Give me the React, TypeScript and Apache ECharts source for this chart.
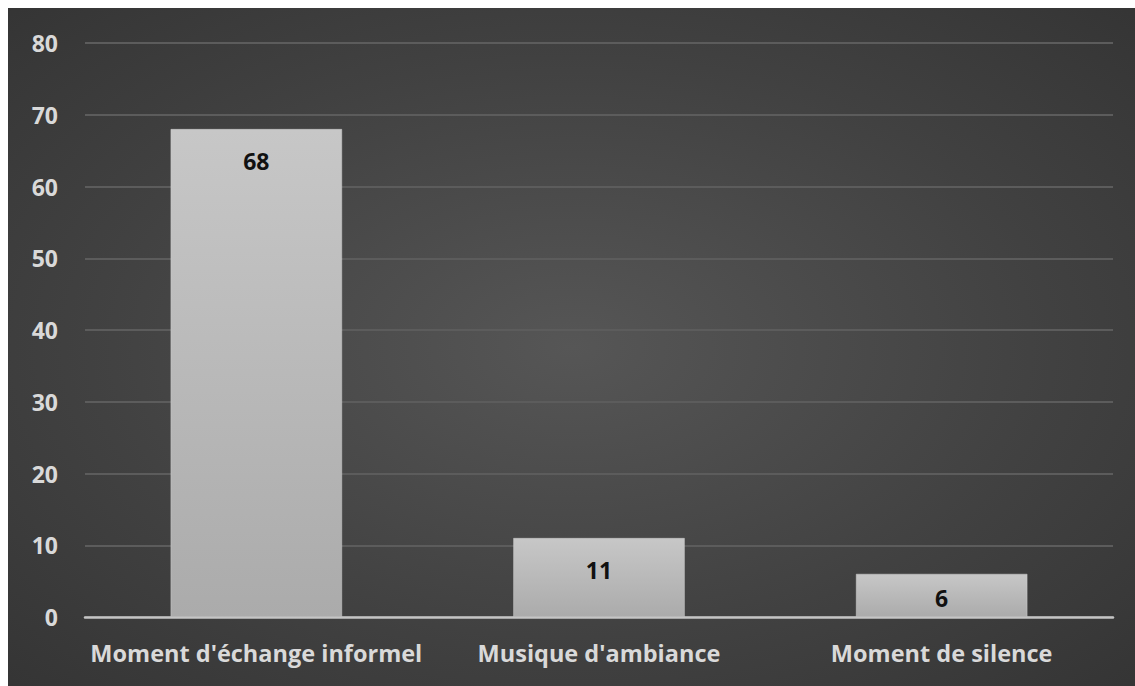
import React, { useEffect, useRef } from "react";
import * as echarts from "echarts";

const categories = ["Moment d'échange informel", "Musique d'ambiance", "Moment de silence"];
const values = [68, 11, 6];
const yTicks = [0, 10, 20, 30, 40, 50, 60, 70, 80];

const FONT = "'Open Sans', 'Liberation Sans', sans-serif";

export default function App() {
  const ref = useRef<HTMLDivElement>(null);

  useEffect(() => {
    if (!ref.current) return;
    document.documentElement.style.overflow = "hidden";
    const chart = echarts.init(ref.current, null, { renderer: "svg" });
    const barFill = new echarts.graphic.LinearGradient(0, 0, 0, 1, [
      { offset: 0, color: "#c7c7c7" },
      { offset: 1, color: "#ababab" },
    ]);
    chart.setOption({
      animation: false,
      backgroundColor: new echarts.graphic.RadialGradient(0.5, 0.5, 0.95, [
        { offset: 0, color: "#565656" },
        { offset: 0.45, color: "#414141" },
        { offset: 1, color: "#2a2a2a" },
      ]),
      grid: { left: 77, right: 22, top: 35, bottom: 69, containLabel: false },
      xAxis: {
        type: "category",
        data: categories,
        axisTick: { show: false },
        axisLine: { show: true, lineStyle: { color: "#c4c4c4", width: 2.5 } },
        axisLabel: {
          interval: 0,
          color: "#d9d9d9",
          fontFamily: FONT,
          fontWeight: "bold",
          fontSize: 23.5,
          margin: 24,
        },
      },
      yAxis: {
        type: "value",
        min: yTicks[0],
        max: yTicks[yTicks.length - 1],
        interval: yTicks[1] - yTicks[0],
        axisLine: { show: false },
        axisTick: { show: false },
        splitLine: { show: true, lineStyle: { color: "#5c5c5c", width: 2 } },
        axisLabel: {
          color: "#d9d9d9",
          fontFamily: FONT,
          fontWeight: "bold",
          fontSize: 23,
          margin: 27,
        },
      },
      series: [
        {
          type: "bar",
          barCategoryGap: "50%",
          data: values.map((v, i) => ({
            value: v,
            label: { distance: i === values.length - 1 ? 13 : 20 },
          })),
          itemStyle: { color: barFill, borderColor: "#cfcfcf", borderWidth: 0.5 },
          label: {
            show: true,
            position: "insideTop",
            color: "#111111",
            fontFamily: FONT,
            fontWeight: "bold",
            fontSize: 23,
          },
        },
      ],
    });
    return () => chart.dispose();
  }, []);

  return (
    <div
      style={{
        position: "absolute",
        left: 8,
        top: 8,
        width: 1127,
        height: 678,
        background: "#2c2c2c",
      }}
    >
      <div ref={ref} style={{ width: 1127, height: 678 }} />
    </div>
  );
}
